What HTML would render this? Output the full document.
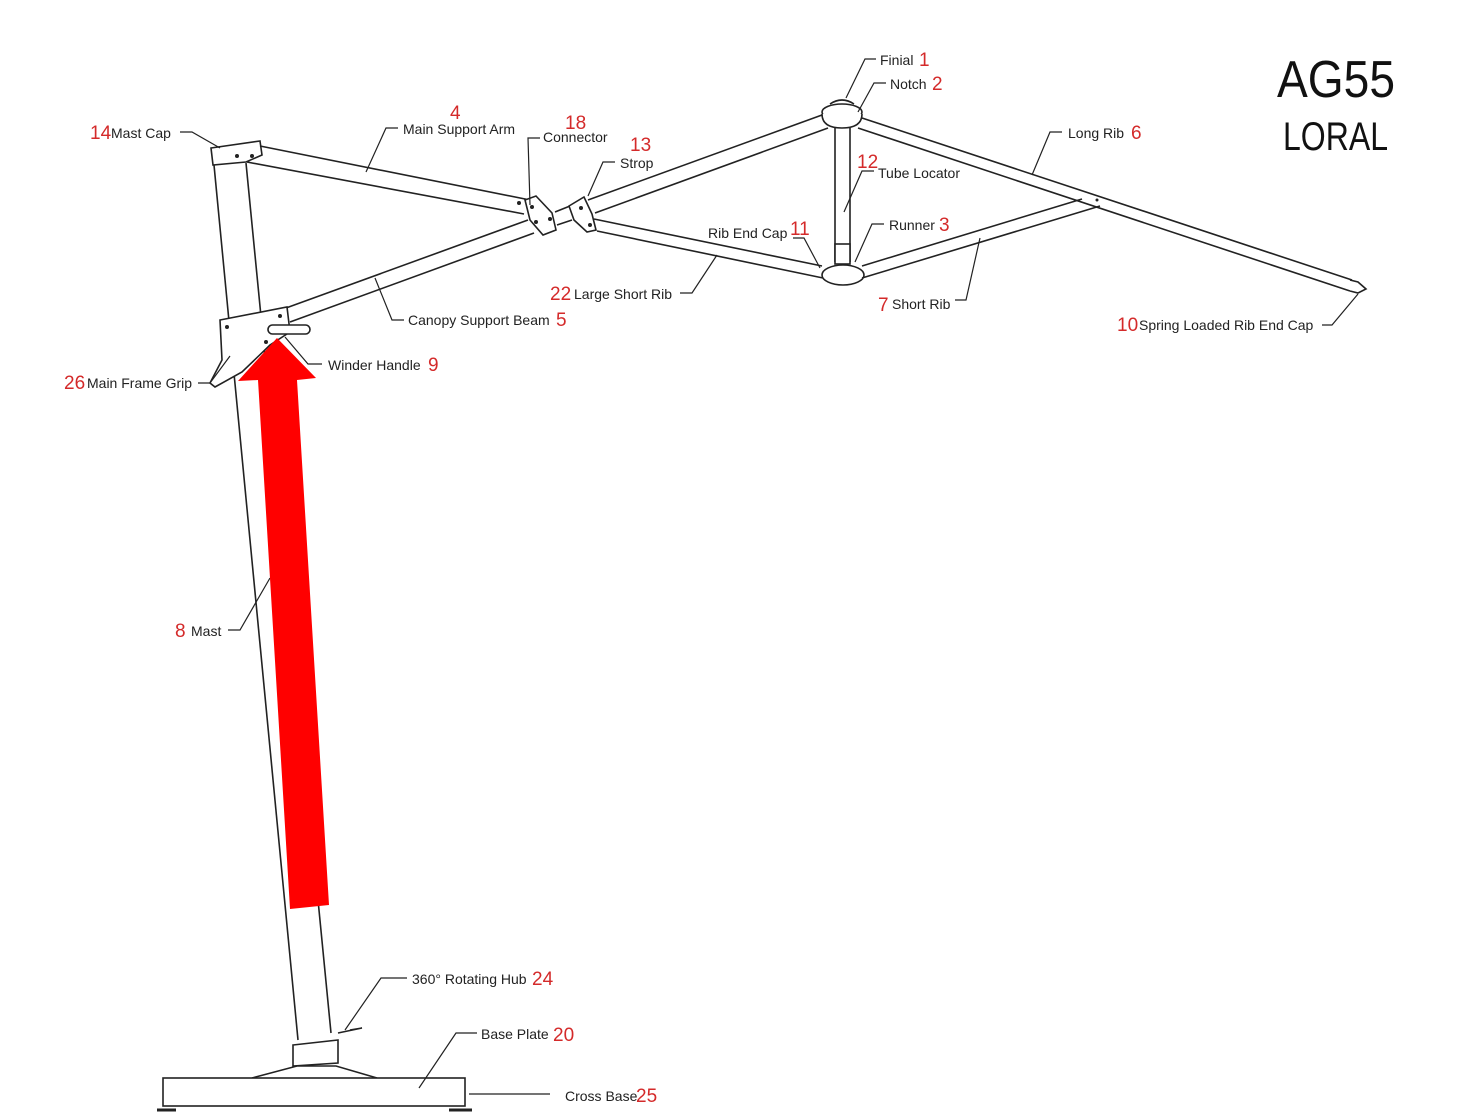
<!DOCTYPE html>
<html><head><meta charset="utf-8"><style>
html,body{margin:0;padding:0;background:#fff}
svg{display:block}
text{font-family:"Liberation Sans",sans-serif}
.l{font-size:14px;fill:#222}
.n{font-size:19px;fill:#d42a2a}
</style></head><body>
<svg width="1457" height="1120" viewBox="0 0 1457 1120" xmlns="http://www.w3.org/2000/svg">
<g fill="none" stroke="#222" stroke-width="1.6">
<line x1="214" y1="165" x2="298" y2="1040"/>
<line x1="246" y1="163" x2="331" y2="1033"/>
<path d="M211 148 L260 141 L262 155 L246 162 L213 165 Z" fill="#fff"/>
<line x1="260" y1="146" x2="530" y2="200"/>
<line x1="247" y1="162" x2="524" y2="214"/>
<line x1="286" y1="308" x2="528" y2="220"/>
<line x1="290" y1="322" x2="534" y2="233"/>
<line x1="555" y1="212" x2="570" y2="206"/>
<line x1="557" y1="225" x2="572" y2="220"/>
<line x1="588" y1="200" x2="822" y2="115"/>
<line x1="595" y1="213" x2="828" y2="128"/>
<line x1="594" y1="219" x2="822" y2="266"/>
<line x1="597" y1="231" x2="823" y2="278"/>
<path d="M525 200 L536 196 L552 213 L556 230 L543 235 L530 220 Z" fill="#fff"/>
<path d="M569 206 L584 197 L592 214 L596 230 L587 232 L574 220 Z" fill="#fff"/>
<line x1="835" y1="128" x2="835" y2="262"/>
<line x1="850" y1="128" x2="850" y2="262"/>
<rect x="835" y="244" width="15" height="20" fill="#fff"/>
<ellipse cx="842" cy="112" rx="20" ry="8" fill="#fff"/>
<path d="M822 114 Q822 128 842 128 Q862 128 862 114" fill="#fff"/>
<path d="M830 104 Q842 96 854 104" />
<ellipse cx="843" cy="275" rx="21" ry="10" fill="#fff"/>
<line x1="862" y1="118" x2="1352" y2="280"/>
<line x1="858" y1="128" x2="1350" y2="291"/>
<path d="M1350 280 L1358 282 L1366 289 L1358 293 L1350 291" fill="#fff"/>
<line x1="862" y1="266" x2="1082" y2="199"/>
<line x1="862" y1="278" x2="1100" y2="206"/>
<path d="M220 320 L287 307 L290 332 L270 345 L242 372 L215 387 L210 383 L222 360 Z" fill="#fff"/>
<rect x="268" y="325" width="42" height="9" rx="4.5" fill="#fff"/>
<path d="M293 1045 L338 1040 L338 1063 L293 1066 Z" fill="#fff"/>
<path d="M252 1078 L297 1066 L336 1066 L377 1078"/>
<rect x="163" y="1078" width="302" height="28" fill="#fff"/>
<path d="M157 1110 L176 1110 M449 1110 L472 1110" stroke-width="3"/>
<path d="M338 1033 L362 1028 L350 1030"/>
</g>
<g fill="#222">
<circle cx="252" cy="156" r="2"/><circle cx="237" cy="156" r="2"/>
<circle cx="519" cy="203" r="2"/><circle cx="532" cy="207" r="2"/><circle cx="536" cy="222" r="2"/><circle cx="550" cy="219" r="2"/>
<circle cx="581" cy="208" r="2"/><circle cx="590" cy="225" r="2"/>
<circle cx="227" cy="327" r="2"/><circle cx="280" cy="316" r="2"/><circle cx="266" cy="342" r="2"/>
<circle cx="1097" cy="200" r="1.5"/>
</g>
<g fill="none" stroke="#222" stroke-width="1.2">
<path d="M180 132 L192 132 L220 148"/>
<path d="M398 128 L386 128 L366 172"/>
<path d="M540 138 L528 138 L530 205"/>
<path d="M615 162 L603 162 L588 196"/>
<path d="M404 320 L392 320 L375 278"/>
<path d="M680 293 L692 293 L717 255"/>
<path d="M322 364 L308 364 L285 337"/>
<path d="M198 383 L210 383 L230 356"/>
<path d="M228 630 L240 630 L270 578"/>
<path d="M876 59 L865 59 L846 98"/>
<path d="M886 83 L874 83 L858 112"/>
<path d="M874 171 L862 171 L844 212"/>
<path d="M884 224 L872 224 L855 262"/>
<path d="M793 238 L804 238 L820 268"/>
<path d="M1062 132 L1050 132 L1032 175"/>
<path d="M955 300 L966 300 L980 238"/>
<path d="M1322 325 L1332 325 L1358 294"/>
<path d="M407 978 L381 978 L345 1030"/>
<path d="M477 1033 L456 1033 L419 1088"/>
<line x1="469" y1="1094" x2="550" y2="1094"/>
</g>
<polygon points="277,338 316,378 297,380 329,905 290,909 258,380 238,381" fill="#ff0000"/>
<text x="90" y="139" class="n">14</text><text x="111" y="138" class="l">Mast Cap</text>
<text x="450" y="119" class="n">4</text><text x="403" y="134" class="l">Main Support Arm</text>
<text x="565" y="129" class="n">18</text><text x="543" y="142" class="l">Connector</text>
<text x="630" y="151" class="n">13</text><text x="620" y="168" class="l">Strop</text>
<text x="408" y="325" class="l">Canopy Support Beam</text><text x="556" y="326" class="n">5</text>
<text x="550" y="300" class="n">22</text><text x="574" y="299" class="l">Large Short Rib</text>
<text x="328" y="370" class="l">Winder Handle</text><text x="428" y="371" class="n">9</text>
<text x="64" y="389" class="n">26</text><text x="87" y="388" class="l">Main Frame Grip</text>
<text x="175" y="637" class="n">8</text><text x="191" y="636" class="l">Mast</text>
<text x="880" y="65" class="l">Finial</text><text x="919" y="66" class="n">1</text>
<text x="890" y="89" class="l">Notch</text><text x="932" y="90" class="n">2</text>
<text x="857" y="168" class="n">12</text><text x="878" y="178" class="l">Tube Locator</text>
<text x="889" y="230" class="l">Runner</text><text x="939" y="231" class="n">3</text>
<text x="708" y="238" class="l">Rib End Cap</text><text x="790" y="235" class="n">11</text>
<text x="1068" y="138" class="l">Long Rib</text><text x="1131" y="139" class="n">6</text>
<text x="878" y="311" class="n">7</text><text x="892" y="309" class="l">Short Rib</text>
<text x="1117" y="331" class="n">10</text><text x="1139" y="330" class="l">Spring Loaded Rib End Cap</text>
<text x="412" y="984" class="l">360° Rotating Hub</text><text x="532" y="985" class="n">24</text>
<text x="481" y="1039" class="l">Base  Plate</text><text x="553" y="1041" class="n">20</text>
<text x="565" y="1101" class="l">Cross Base</text><text x="636" y="1102" class="n">25</text>
<text x="1277" y="97" style="font-size:52px;fill:#111" textLength="118" lengthAdjust="spacingAndGlyphs">AG55</text>
<text x="1283" y="150" style="font-size:40px;fill:#111" textLength="105" lengthAdjust="spacingAndGlyphs">LORAL</text>
</svg>
</body></html>
